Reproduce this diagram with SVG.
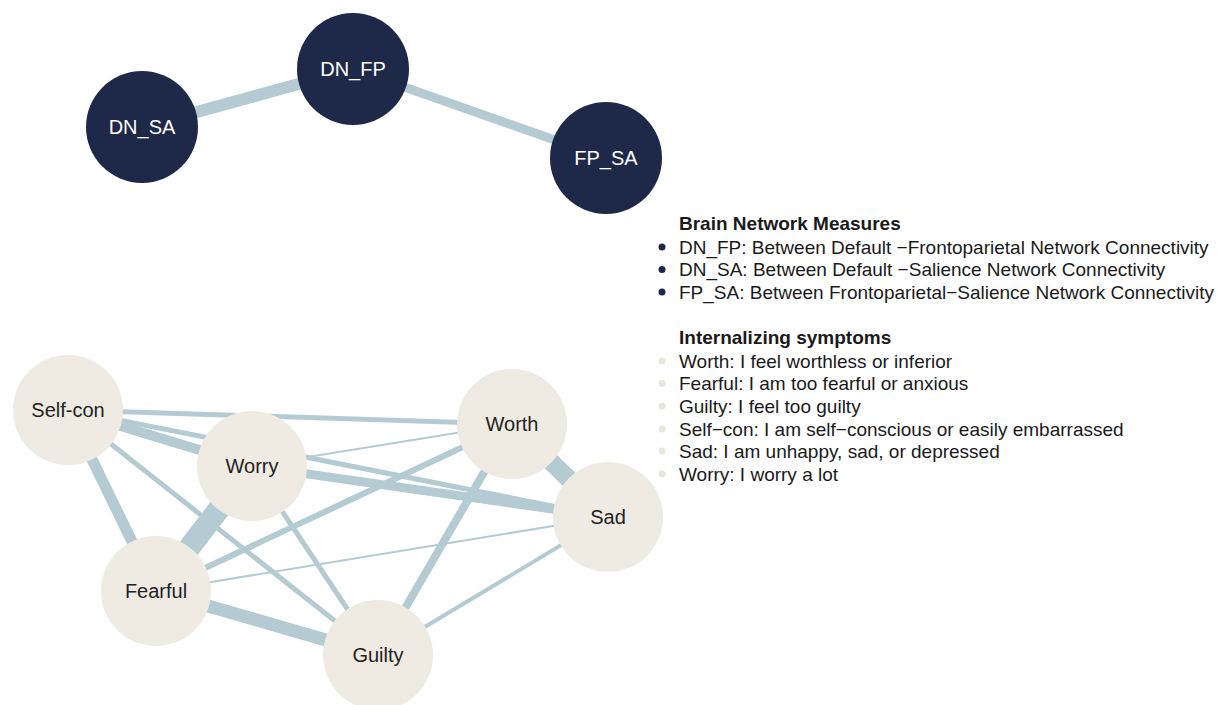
<svg xmlns="http://www.w3.org/2000/svg" width="1227" height="705" viewBox="0 0 1227 705">
<style>
.e{stroke:#b4cbd3;fill:none;stroke-linecap:butt}
.nb circle{fill:#1e2848}
.nb text{fill:#ffffff}
.ns circle{fill:#efebe2}
.ns text{fill:#222222}
.lbl{font-family:"Liberation Sans",Arial,sans-serif;font-size:20px;text-anchor:middle}
.lg{font-family:"Liberation Sans",Arial,sans-serif;font-size:19px;fill:#1a1a1a}
.lgt{font-weight:bold}
</style>
<rect width="1227" height="705" fill="#ffffff"/>
<g id="connectors">
<line class="e" x1="142" y1="127" x2="353" y2="69" stroke-width="12"/>
<line class="e" x1="353" y1="69" x2="606" y2="158" stroke-width="9"/>
<line class="e" x1="68" y1="410" x2="512" y2="424" stroke-width="5"/>
<line class="e" x1="68" y1="410" x2="252" y2="466" stroke-width="10"/>
<line class="e" x1="68" y1="410" x2="608" y2="517" stroke-width="5"/>
<line class="e" x1="68" y1="410" x2="156" y2="591" stroke-width="11"/>
<line class="e" x1="68" y1="410" x2="378" y2="655" stroke-width="5"/>
<line class="e" x1="252" y1="466" x2="156" y2="591" stroke-width="22"/>
<line class="e" x1="252" y1="466" x2="378" y2="655" stroke-width="5"/>
<line class="e" x1="252" y1="466" x2="512" y2="424" stroke-width="2"/>
<line class="e" x1="252" y1="466" x2="608" y2="517" stroke-width="9"/>
<line class="e" x1="512" y1="424" x2="608" y2="517" stroke-width="18"/>
<line class="e" x1="512" y1="424" x2="156" y2="591" stroke-width="6"/>
<line class="e" x1="512" y1="424" x2="378" y2="655" stroke-width="8"/>
<line class="e" x1="608" y1="517" x2="156" y2="591" stroke-width="2"/>
<line class="e" x1="608" y1="517" x2="378" y2="655" stroke-width="4"/>
<line class="e" x1="156" y1="591" x2="378" y2="655" stroke-width="13"/>
</g>
<g id="node-DN_SA" class="nb"><circle cx="142" cy="127" r="56"/><text class="lbl" x="142" y="134">DN_SA</text></g>
<g id="node-DN_FP" class="nb"><circle cx="353" cy="69" r="56"/><text class="lbl" x="353" y="76">DN_FP</text></g>
<g id="node-FP_SA" class="nb"><circle cx="606" cy="158" r="56"/><text class="lbl" x="606" y="165">FP_SA</text></g>
<g id="node-Self-con" class="ns"><circle cx="68" cy="410" r="55"/><text class="lbl" x="68" y="417">Self-con</text></g>
<g id="node-Worry" class="ns"><circle cx="252" cy="466" r="55"/><text class="lbl" x="252" y="473">Worry</text></g>
<g id="node-Worth" class="ns"><circle cx="512" cy="424" r="55"/><text class="lbl" x="512" y="431">Worth</text></g>
<g id="node-Sad" class="ns"><circle cx="608" cy="517" r="55"/><text class="lbl" x="608" y="524">Sad</text></g>
<g id="node-Fearful" class="ns"><circle cx="156" cy="591" r="55"/><text class="lbl" x="156" y="598">Fearful</text></g>
<g id="node-Guilty" class="ns"><circle cx="378" cy="655" r="55"/><text class="lbl" x="378" y="662">Guilty</text></g>
<g id="legend">
<text class="lg lgt" x="679" y="230">Brain Network Measures</text>
<circle cx="662" cy="247" r="3.5" fill="#1e2848"/>
<text class="lg" x="679" y="253.5">DN_FP: Between Default −Frontoparietal Network Connectivity</text>
<circle cx="662" cy="269.5" r="3.5" fill="#1e2848"/>
<text class="lg" x="679" y="276">DN_SA: Between Default −Salience Network Connectivity</text>
<circle cx="662" cy="292" r="3.5" fill="#1e2848"/>
<text class="lg" x="679" y="299">FP_SA: Between Frontoparietal−Salience Network Connectivity</text>
<text class="lg lgt" x="679" y="344">Internalizing symptoms</text>
<circle cx="662" cy="361" r="3.5" fill="#e9e5dc"/>
<text class="lg" x="679" y="367.5">Worth: I feel worthless or inferior</text>
<circle cx="662" cy="383.5" r="3.5" fill="#e9e5dc"/>
<text class="lg" x="679" y="390">Fearful: I am too fearful or anxious</text>
<circle cx="662" cy="406" r="3.5" fill="#e9e5dc"/>
<text class="lg" x="679" y="412.8">Guilty: I feel too guilty</text>
<circle cx="662" cy="429" r="3.5" fill="#e9e5dc"/>
<text class="lg" x="679" y="435.5">Self−con: I am self−conscious or easily embarrassed</text>
<circle cx="662" cy="451" r="3.5" fill="#e9e5dc"/>
<text class="lg" x="679" y="457.5">Sad: I am unhappy, sad, or depressed</text>
<circle cx="662" cy="474" r="3.5" fill="#e9e5dc"/>
<text class="lg" x="679" y="480.8">Worry: I worry a lot</text>
</g>
</svg>
